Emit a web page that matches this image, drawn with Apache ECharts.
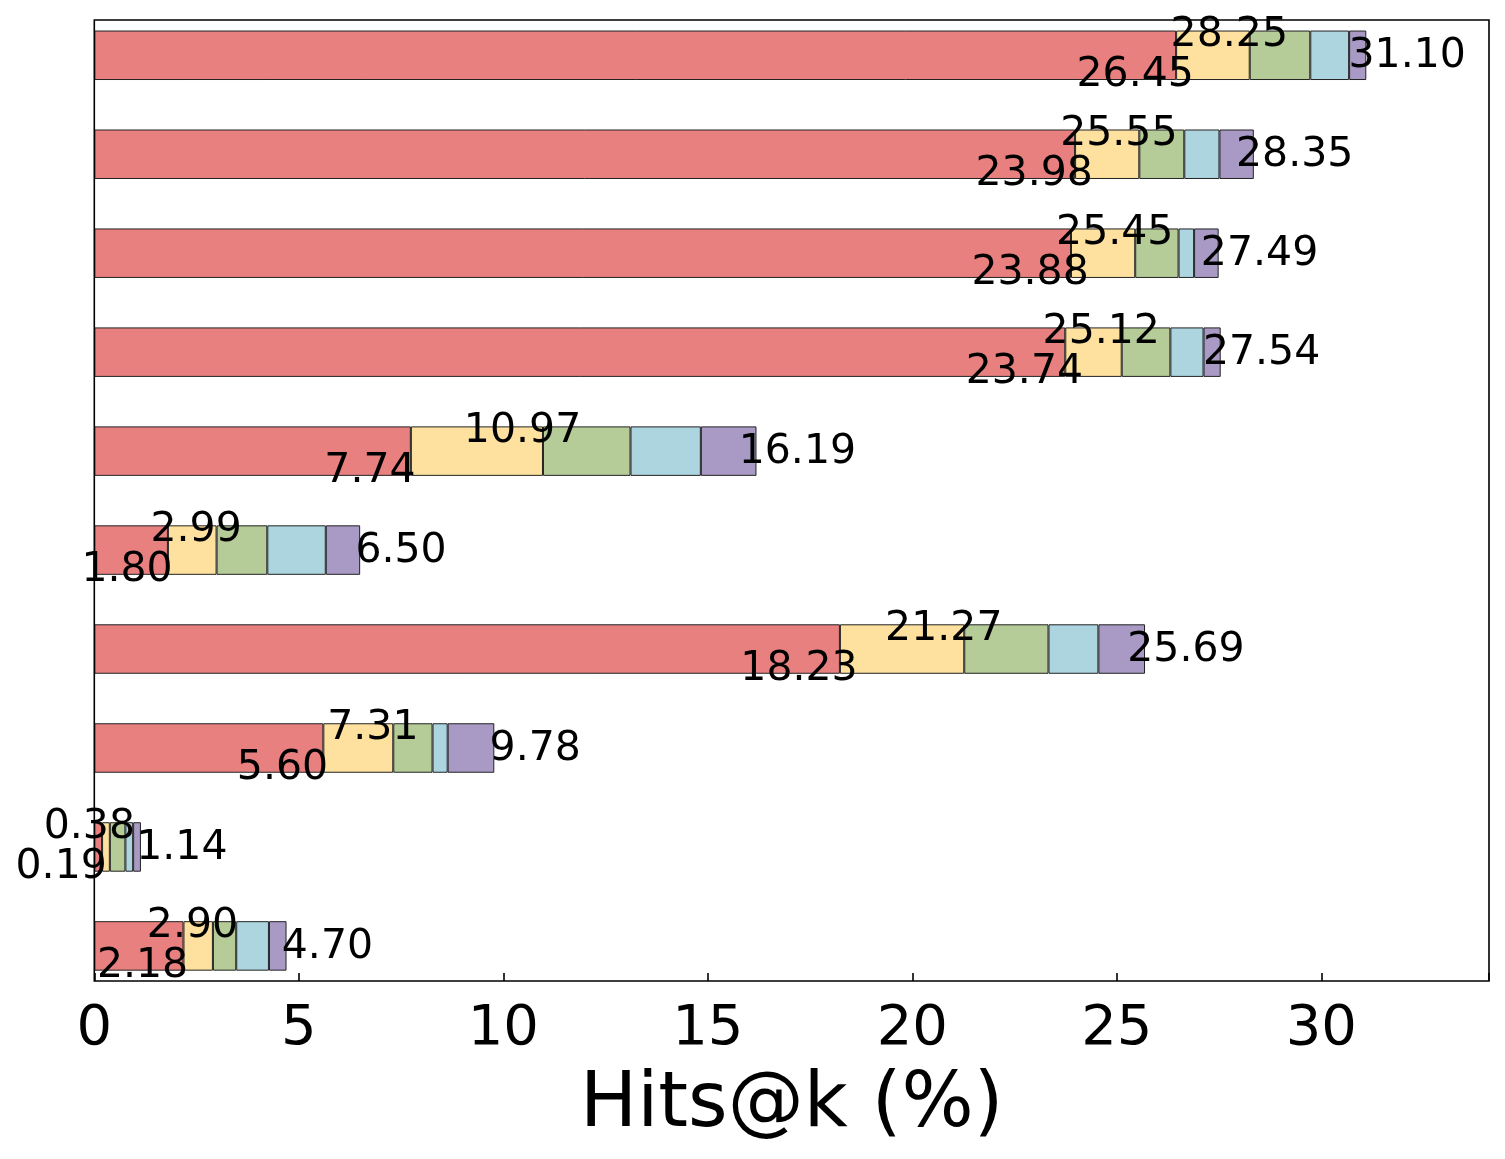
<!DOCTYPE html>
<html>
<head>
<meta charset="utf-8">
<script src="https://cdn.jsdelivr.net/npm/echarts@6/dist/echarts.min.js"></script>
<style>
	html, body { margin: 0; padding: 0; background: #fff; }
	#chart { width: 1505px; height: 1159px; }
</style>
</head>
<body>
<div id="chart"></div>
<script>
// 行（自上而下）
var rows = ['r1', 'r2', 'r3', 'r4', 'r5', 'r6', 'r7', 'r8', 'r9', 'r10']
// 各段数值
var seg1 = [26.45, 23.98, 23.88, 23.74, 7.74, 1.80, 18.23, 5.60, 0.19, 2.18]
var seg2 = [1.80, 1.57, 1.57, 1.38, 3.23, 1.19, 3.04, 1.71, 0.19, 0.72]
var seg3 = [1.48, 1.10, 1.06, 1.19, 2.14, 1.24, 2.06, 0.96, 0.38, 0.57]
var seg4 = [0.95, 0.86, 0.38, 0.81, 1.72, 1.43, 1.22, 0.37, 0.19, 0.80]
var seg5 = [0.42, 0.84, 0.60, 0.42, 1.36, 0.84, 1.14, 1.14, 0.19, 0.43]
var xTicks = [0, 5, 10, 15, 20, 25, 30]
var colors = ['#E88080', '#FEE19F', '#B5CC98', '#ADD5E0', '#A99AC5']

var xMax = 34.1
var unit = (1489 - 94.3) / xMax
var font = 'DejaVu Sans'

function sumTo(i, n) {
	var s = [seg1, seg2, seg3, seg4, seg5]
	var t = 0
	for (var k = 0; k < n; k++) t += s[k][i]
	return t.toFixed(2)
}

function makeLabel(n, dx, dy) {
	return {
		show: true,
		position: ['100%', '50%'],
		align: 'center',
		verticalAlign: 'middle',
		offset: [dx, dy],
		fontFamily: font,
		fontSize: 41,
		color: '#000',
		formatter: function (p) { return sumTo(p.dataIndex, n) }
	}
}

var segs = [seg1, seg2, seg3, seg4, seg5]
var series = segs.map(function (d, i) {
	var s = {
		type: 'bar',
		stack: 'total',
		xAxisIndex: 0,
		yAxisIndex: 0,
		barWidth: '50%',
		data: d,
		itemStyle: { color: colors[i], borderColor: '#222', borderWidth: 1 },
		label: { show: false },
		emphasis: { disabled: true }
	}
	if (i === 0) s.label = makeLabel(1, -unit, 20)
	if (i === 1) s.label = makeLabel(2, -unit * 0.5, -20)
	if (i === 4) s.label = makeLabel(5, unit, 1)
	return s
})

var chart = echarts.init(document.getElementById('chart'))
chart.setOption({
	animation: false,
	backgroundColor: '#fff',
	grid: [
		{ left: 94.3, right: 16, top: 5.8, bottom: 1159 - 995.4, outerBoundsMode: 'none' },
		{ left: 94.3, right: 16, top: 20, bottom: 1159 - 981, outerBoundsMode: 'none',
			show: true, borderColor: '#000', borderWidth: 1.6, backgroundColor: 'transparent', z: 10 }
	],
	xAxis: [
		{ gridIndex: 0, type: 'value', min: 0, max: xMax, show: false },
		{
			gridIndex: 1, type: 'value', min: 0, max: xMax, interval: 5, z: 10,
			axisLine: { show: false },
			axisTick: { show: true, inside: true, length: 8, lineStyle: { color: '#000', width: 1.6 } },
			splitLine: { show: false },
			axisLabel: {
				fontFamily: font, fontSize: 56, color: '#000', margin: 20,
				customValues: xTicks
			},
			name: 'Hits@k (%)',
			nameLocation: 'middle',
			nameGap: 87,
			nameTextStyle: { fontFamily: font, fontSize: 76, color: '#000' }
		}
	],
	yAxis: [
		{ gridIndex: 0, type: 'category', data: rows, inverse: true, show: false },
		{ gridIndex: 1, type: 'value', min: 0, max: 1, show: false }
	],
	series: series
})
</script>
</body>
</html>
